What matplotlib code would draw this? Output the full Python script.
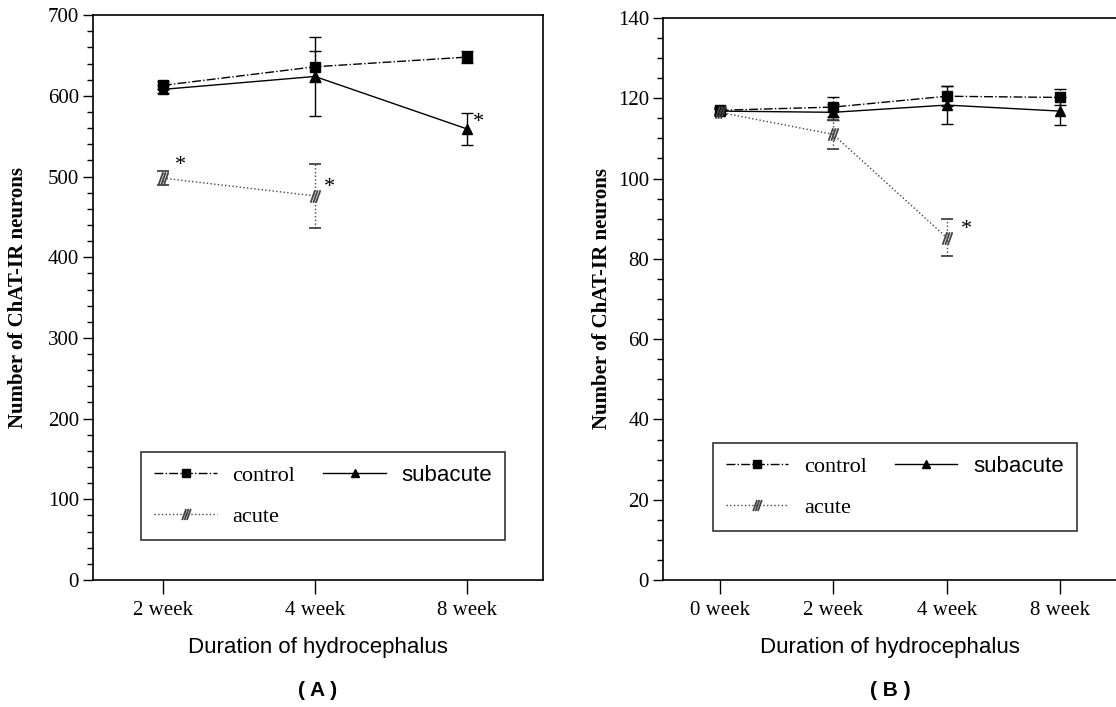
import matplotlib
matplotlib.use("Agg")
import matplotlib.pyplot as plt
from matplotlib.lines import Line2D
from matplotlib.path import Path
from matplotlib.ticker import MultipleLocator

# Panel A data
weeks_a = ["2 week", "4 week", "8 week"]
control_a = [613, 636, 648]
control_a_err = [5, 19, 7]
subacute_a = [608, 624, 559]
subacute_a_err = [5, 49, 20]
acute_a = [498, 476]
acute_a_err = [9, 40]

# Panel B data
weeks_b = ["0 week", "2 week", "4 week", "8 week"]
control_b = [117.0, 117.8, 120.5, 120.2]
control_b_err = [0.8, 2.5, 2.5, 2.0]
subacute_b = [116.8, 116.5, 118.3, 116.8]
subacute_b_err = [0.8, 2.0, 4.7, 3.5]
acute_b = [116.5, 111.0, 85.3]
acute_b_err = [0.8, 3.7, 4.7]

SERIF = ["Liberation Serif", "DejaVu Serif"]
SANS = ["Liberation Sans", "DejaVu Sans"]

# hatched marker: three short diagonal strokes
verts, codes = [], []
for dx in (-0.3, 0.0, 0.3):
    verts += [(dx - 0.25, -0.7), (dx + 0.25, 0.7)]
    codes += [Path.MOVETO, Path.LINETO]
HATCH = Path(verts, codes)

STYLES = {
    "control": dict(ls="-.", marker="s", color="black", mfc="black", ms=7, mew=1.0),
    "subacute": dict(ls="-", marker="^", color="black", mfc="black", ms=7, mew=1.0),
    "acute": dict(ls=":", marker=HATCH, color="#444444", mfc="none", ms=9, mew=1.3),
}

fig = plt.figure(figsize=(11.16, 7.07), dpi=100)
ax_a = fig.add_axes([0.0833, 0.1796, 0.4032, 0.799])
ax_b = fig.add_axes([0.594, 0.1796, 0.4068, 0.795])


def plot_series(ax, x, y, err, name):
    st = STYLES[name]
    _, _, bars = ax.errorbar(x, y, yerr=err, linestyle=st["ls"], marker=st["marker"],
                             color=st["color"], mfc=st["mfc"], mec=st["color"],
                             ms=st["ms"], mew=st["mew"], lw=1.0, elinewidth=1.0,
                             capsize=4, capthick=1.0)
    if name != "subacute":
        for b in bars:
            b.set_linestyle(":")


def style_axes(ax, labels, ylim, major, minor, labelpad):
    ax.set_xticks(range(len(labels)))
    ax.set_xticklabels(labels, fontfamily=SERIF, fontsize=15)
    ax.set_ylim(*ylim)
    ax.yaxis.set_major_locator(MultipleLocator(major))
    ax.yaxis.set_minor_locator(MultipleLocator(minor))
    for lab in ax.get_yticklabels():
        lab.set_fontfamily(SERIF)
        lab.set_fontsize(15)
    ax.tick_params(axis="x", direction="out", length=10, width=1, pad=5)
    ax.tick_params(axis="y", direction="out", length=7, width=1, pad=3)
    ax.tick_params(axis="y", which="minor", direction="out", length=4, width=1)
    ax.set_ylabel("Number of ChAT-IR neurons", fontfamily=SERIF,
                  fontsize=15, fontweight="bold", labelpad=labelpad)
    for sp in ax.spines.values():
        sp.set_linewidth(1.2)


def make_legend(ax, anchor):
    names = ["control", "acute", "subacute"]
    handles = []
    for n in names:
        st = STYLES[n]
        handles.append(Line2D([], [], linestyle=st["ls"], marker=st["marker"],
                              color=st["color"], mfc=st["mfc"], mec=st["color"],
                              ms=st["ms"] - 1, mew=st["mew"], lw=1.0))
    leg = ax.legend(handles, names, loc="lower left", bbox_to_anchor=anchor,
                    mode="expand", ncol=2, frameon=True, fancybox=False,
                    borderpad=0.6, borderaxespad=0, labelspacing=0.9,
                    handlelength=2.8, handletextpad=0.7,
                    prop={"family": SERIF, "size": 16})
    leg.get_frame().set_edgecolor("black")
    leg.get_frame().set_linewidth(1.2)
    for t in leg.get_texts():
        if t.get_text() == "subacute":
            t.set_fontfamily(SANS)


# Panel A
plot_series(ax_a, range(3), control_a, control_a_err, "control")
plot_series(ax_a, range(3), subacute_a, subacute_a_err, "subacute")
plot_series(ax_a, range(2), acute_a, acute_a_err, "acute")
ax_a.set_xlim(-0.46, 2.5)
style_axes(ax_a, weeks_a, (0, 700), 100, 20, 14)
ax_a.text(0.08, acute_a[0] + 10, "*", fontsize=16, fontfamily=SERIF)
ax_a.text(1.06, acute_a[1] + 5, "*", fontsize=16, fontfamily=SERIF)
ax_a.text(2.04, subacute_a[2] + 2, "*", fontsize=16, fontfamily=SERIF)
make_legend(ax_a, (0.107, 0.071, 0.809, 0.157))

# Panel B
plot_series(ax_b, range(4), control_b, control_b_err, "control")
plot_series(ax_b, range(4), subacute_b, subacute_b_err, "subacute")
plot_series(ax_b, range(3), acute_b, acute_b_err, "acute")
ax_b.set_xlim(-0.5, 3.5)
style_axes(ax_b, weeks_b, (0, 140), 20, 5, 4)
ax_b.spines["right"].set_visible(False)
ax_b.text(2.13, acute_b[2] + 1.0, "*", fontsize=16, fontfamily=SERIF)
make_legend(ax_b, (0.110, 0.087, 0.802, 0.158))

# Axis titles and panel letters
fig.text(318 / 1116, 1 - 648 / 707, "Duration of hydrocephalus",
         ha="center", va="center", fontfamily=SANS, fontsize=16)
fig.text(890 / 1116, 1 - 648 / 707, "Duration of hydrocephalus",
         ha="center", va="center", fontfamily=SANS, fontsize=16)
fig.text(318 / 1116, 1 - 690 / 707, "( A )", ha="center", va="center",
         fontfamily=SANS, fontsize=15, fontweight="bold")
fig.text(890 / 1116, 1 - 690 / 707, "( B )", ha="center", va="center",
         fontfamily=SANS, fontsize=15, fontweight="bold")

fig.savefig("out.png", dpi=100)
